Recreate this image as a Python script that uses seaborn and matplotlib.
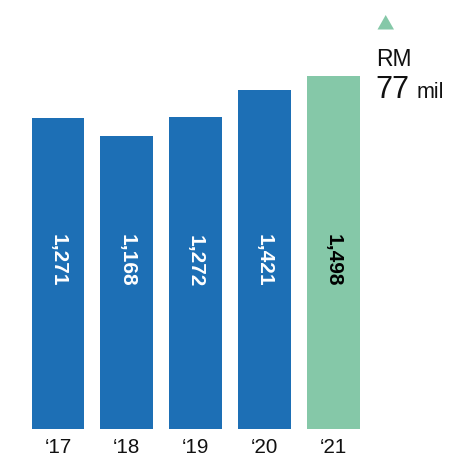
import matplotlib
matplotlib.use("Agg")
import matplotlib.pyplot as plt
import matplotlib.transforms as mtransforms
from matplotlib.patches import Polygon
import seaborn as sns
import pandas as pd

# ---- data ----
years = ["\u201817", "\u201818", "\u201819", "\u201820", "\u201821"]
values = [1271, 1168, 1272, 1421, 1498]
value_labels = ["1,271", "1,168", "1,272", "1,421", "1,498"]
bar_colors = ["#1d6fb5", "#1d6fb5", "#1d6fb5", "#1d6fb5", "#85c8a8"]
label_colors = ["white", "white", "white", "white", "black"]
change_unit = "RM"
change_value = "77"
change_suffix = "mil"

sns.set_theme(style="white")
plt.rcParams["font.family"] = ["Liberation Sans", "DejaVu Sans"]

W, H = 452, 457
fig = plt.figure(figsize=(W / 100, H / 100), dpi=100)

# axes placement (pixels -> fractions)
ax_left, ax_right = 23.6, 367.6
ax_top, ax_bottom = 60, 429
ax = fig.add_axes([ax_left / W, 1 - ax_bottom / H,
                   (ax_right - ax_left) / W, (ax_bottom - ax_top) / H])

df = pd.DataFrame({"year": years, "value": values})
sns.barplot(data=df, x="year", y="value", hue="year", palette=bar_colors,
            width=0.77, saturation=1, legend=False, ax=ax, edgecolor="none")

# axis floor (truncated axis as in the source graphic)
y_floor = -439
y_top = y_floor + 2026
ax.set_ylim(y_floor, y_top)
ax.set_xlim(-0.5, 4.5)
for p in ax.patches:
    top = p.get_y() + p.get_height()
    p.set_y(y_floor)
    p.set_height(top - y_floor)

# value labels, rotated, at fixed height
trans = mtransforms.blended_transform_factory(ax.transData, ax.transAxes)
for i, (lab, col) in enumerate(zip(value_labels, label_colors)):
    ax.text(i, 0.456, lab, rotation=270, ha="center", va="center",
            color=col, fontsize=15, fontweight="bold", transform=trans)

ax.set_xlabel("")
ax.set_ylabel("")
ax.set_yticks([])
ax.tick_params(axis="x", length=0, pad=6.6, labelsize=14.8, labelcolor="#111111")
for s in ax.spines.values():
    s.set_visible(False)

# change indicator
tri = [(377.5 / W, 1 - 29.5 / H), (394 / W, 1 - 29.5 / H), (385.7 / W, 1 - 15 / H)]
fig.patches.append(Polygon(tri, closed=True, transform=fig.transFigure,
                           facecolor="#85c8a8", edgecolor="none"))
fig.text(376.5 / W, 1 - 66.5 / H, change_unit, fontsize=16.5, color="#111111",
         ha="left", va="baseline")
fig.text(375.5 / W, 1 - 97.5 / H, change_value, fontsize=22, color="#111111",
         ha="left", va="baseline")
fig.text(417 / W, 1 - 97.5 / H, change_suffix, fontsize=15.5, color="#111111",
         ha="left", va="baseline")

fig.savefig("out.png", dpi=100)
